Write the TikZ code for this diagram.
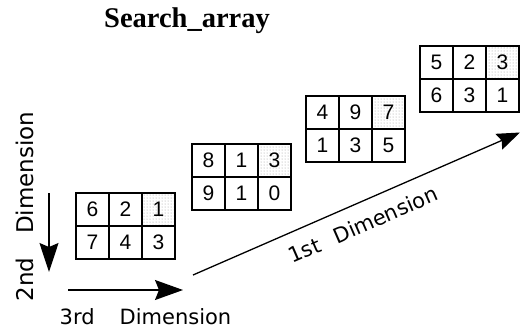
\documentclass[tikz,border=0pt]{standalone}
\usepackage{fontspec}
\usetikzlibrary{arrows.meta,patterns}
\newfontfamily\dejavu{DejaVu Sans}
\newfontfamily\libsans{Liberation Sans}
\newfontfamily\libserif{Liberation Serif}
\begin{document}
\begin{tikzpicture}[x=1pt,y=-1pt,
  cell/.style={draw, line width=1.2pt, minimum width=33pt, minimum height=33pt,
    inner sep=0pt, font={\libsans\fontsize{21pt}{21pt}\selectfont}},
  hot/.style={cell, pattern=dots, pattern color=gray!80},
  title/.style={font={\libserif\bfseries\fontsize{28.5pt}{28.5pt}\selectfont}, inner sep=0pt},
  lbl/.style={font={\dejavu\fontsize{21pt}{21pt}\selectfont}, inner sep=0pt},
  arr/.style={line width=1.3pt}]
\useasboundingbox (0,0) rectangle (521,330);
\fill[white] (0,0) rectangle (521,330);
% title
\node[title, anchor=base] (title) at (187,27) {Search\_array};
% grids
\foreach \g/\x/\y/\a/\b/\c/\d/\e/\f in {1/76/193/6/2/1/7/4/3, 2/192/144/8/1/3/9/1/0, 3/306/96/4/9/7/1/3/5, 4/420/46/5/2/3/6/3/1} {
  \node[cell] (g\g-a) at (\x+16.5,\y+16.5) {\a};
  \node[cell] (g\g-b) at (\x+49.5,\y+16.5) {\b};
  \node[hot]  (g\g-c) at (\x+82.5,\y+16.5) {\c};
  \node[cell] (g\g-d) at (\x+16.5,\y+49.5) {\d};
  \node[cell] (g\g-e) at (\x+49.5,\y+49.5) {\e};
  \node[cell] (g\g-f) at (\x+82.5,\y+49.5) {\f};
}
% arrows
\coordinate (a2s) at (49,193);
\coordinate (a2e) at (49,272);
\draw[arr, -{Stealth[length=29pt,width=19pt,inset=4pt]}] (a2s) -- (a2e);
\coordinate (a3s) at (68,290);
\coordinate (a3e) at (183,290);
\draw[arr, -{Stealth[length=28pt,width=20pt,inset=4pt]}] (a3s) -- (a3e);
\coordinate (a1s) at (193,275);
\coordinate (a1e) at (520,132.5);
\draw[arr, -{Stealth[length=23pt,width=17pt,inset=3pt]}] (a1s) -- (a1e);
% labels
\node[lbl, rotate=90, font={\dejavu\fontsize{23pt}{23pt}\selectfont}] (d2) at (24.5,206.5) {2nd\hspace{24pt}Dimension};
\node[lbl] (d3) at (145.5,316.5) {3rd\hspace{25pt}Dimension};
\node[lbl, rotate=23.6] (d1) at (363,224.5) {1st\hspace{16pt}Dimension};
\end{tikzpicture}
\end{document}
